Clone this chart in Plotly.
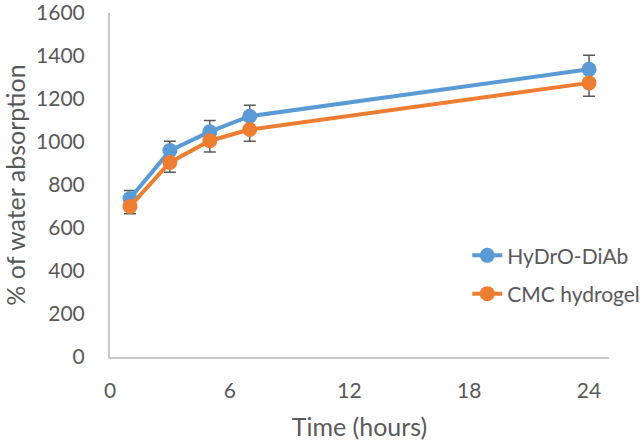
import plotly.graph_objects as go

time_h = [1, 3, 5, 7, 24]
hydro_diab = [737, 960, 1048, 1120, 1338]
hydro_err = [37, 43, 52, 51, 66]
cmc = [700, 905, 1006, 1058, 1275]
cmc_err = [34, 46, 52, 55, 62]
x_ticks = [0, 6, 12, 18, 24]
y_ticks = [0, 200, 400, 600, 800, 1000, 1200, 1400, 1600]

BLUE = "#5B9BD5"
ORANGE = "#ED7D31"
TXT = "#595959"
FONT = "Lato"

fig = go.Figure()
fig.add_trace(go.Scatter(
    x=time_h, y=hydro_diab, name="HyDrO-DiAb", mode="lines+markers",
    line=dict(color=BLUE, width=4), marker=dict(color=BLUE, size=15),
    error_y=dict(type="data", symmetric=False, array=hydro_err,
                 arrayminus=[0] * len(hydro_err), color=TXT, thickness=1.5, width=6),
    legendgroup="a",
))
fig.add_trace(go.Scatter(
    x=time_h, y=cmc, name="CMC hydrogel", mode="lines+markers",
    line=dict(color=ORANGE, width=4), marker=dict(color=ORANGE, size=15),
    error_y=dict(type="data", symmetric=False, array=[0] * len(cmc_err),
                 arrayminus=cmc_err, color=TXT, thickness=1.5, width=6),
    legendgroup="b",
))

fig.update_layout(
    width=644, height=442,
    margin=dict(l=110, r=35, t=13, b=85, autoexpand=False),
    paper_bgcolor="white", plot_bgcolor="white",
    font=dict(family=FONT, size=21, color=TXT),
    showlegend=True,
    legend=dict(x=0.716, y=0.354, xanchor="left", yanchor="top",
                bgcolor="rgba(0,0,0,0)", font=dict(size=21, color=TXT, family=FONT),
                tracegroupgap=8, traceorder="grouped", itemwidth=30),
    xaxis=dict(range=[0, 25], tickvals=x_ticks, showgrid=False, zeroline=False,
               showline=True, linecolor="#C8C8C8", linewidth=2, ticks="",
               automargin=False, ticklabelstandoff=14, ticklabeloverflow="allow",
               tickfont=dict(size=21, color=TXT, family=FONT),
               title=dict(text="Time (hours)", font=dict(size=25, color=TXT, family=FONT), standoff=17)),
    yaxis=dict(range=[0, 1600], tickvals=y_ticks, showgrid=False, zeroline=False,
               showline=True, linecolor="#C8C8C8", linewidth=2, ticks="",
               automargin=False, ticklabelstandoff=19, ticklabeloverflow="allow",
               tickfont=dict(size=21, color=TXT, family=FONT),
               title=dict(text="% of water absorption", font=dict(size=25, color=TXT, family=FONT), standoff=19)),
)

fig.write_html("out.html", config={"displayModeBar": False},
               post_script="document.body.style.margin='0';")
